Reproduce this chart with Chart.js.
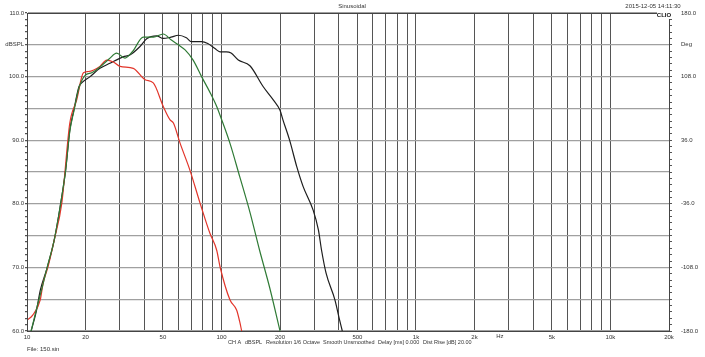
<!DOCTYPE html>
<html>
<head>
<meta charset="utf-8">
<script src="https://cdn.jsdelivr.net/npm/chart.js@4/dist/chart.umd.min.js"></script>
<style>
	html, body { margin: 0; padding: 0; background: #fff; }
	canvas { display: block; }
</style>
</head>
<body>
<canvas id="chart" width="705" height="357"></canvas>
<script>
// curve readings: frequency (Hz) and level (dBSPL)
const blackFreq = [10.5, 11.2, 11.7, 12.6, 13.8, 14.8, 15.8, 16.6, 17.4, 18.5, 19.1, 21.1, 23.7, 26.7, 31.2, 33.8, 38, 41.4, 46.4, 50.2, 55, 60, 66, 70, 79, 85, 92.6, 98.3, 106, 112, 122, 140, 164, 185, 200, 207, 224, 244, 263, 296, 315, 327, 345, 383, 405, 418];
const blackDb = [60, 63.3, 66.4, 69.6, 74.3, 79.5, 85.3, 91.6, 94.7, 98.4, 99, 100, 101.3, 102.1, 103.1, 103.4, 104.7, 106, 106.4, 106, 106.2, 106.5, 106.1, 105.5, 105.5, 105.2, 104.4, 103.9, 103.9, 103.7, 102.6, 101.7, 98.4, 96.3, 94.7, 93.2, 90, 85.8, 82.7, 79, 75.9, 72.7, 69.1, 64.9, 61.7, 60];

const greenFreq = [10.5, 11.2, 12, 12.7, 13.8, 14.8, 15.8, 16.6, 17.4, 18.5, 19.9, 21.5, 23.7, 26.5, 28.9, 31.9, 35, 39.6, 44.7, 50.2, 55, 60, 65, 71.5, 79, 87, 94.5, 100, 110.6, 124, 140, 157, 177, 200];
const greenDb = [60, 63.5, 67, 70, 74.3, 79.5, 85.3, 91.4, 94.5, 98.2, 100.2, 100.6, 101.5, 102.8, 103.7, 102.9, 104, 106.2, 106.2, 106.7, 105.8, 105, 104.2, 102.6, 100, 97.6, 95.3, 93.3, 89.5, 84.3, 78.7, 72.7, 66.8, 60];

const redFreq = [10, 10.7, 11.7, 12.1, 12.8, 13.8, 15.1, 16.6, 18, 19.5, 20.7, 23.7, 25.7, 27.8, 30.1, 35.2, 40.5, 44.6, 50.2, 54.4, 56.6, 61.3, 68.8, 77.6, 87.1, 94.5, 98.3, 110.5, 119.6, 124, 127];
const redDb = [61.7, 62.5, 64.9, 67.5, 70, 74.3, 80.1, 92.7, 96.3, 100.6, 100.8, 101.6, 102.6, 102.3, 101.6, 101.3, 99.5, 99, 95.3, 93.2, 92.7, 89.5, 85.3, 80.1, 75.4, 72.7, 70.1, 64.9, 63.3, 61.5, 60];

// axis ticks
const freqTicks = [10, 20, 30, 40, 50, 60, 70, 80, 90, 100, 200, 300, 400, 500, 600, 700, 800, 900,
	1000, 2000, 3000, 4000, 5000, 6000, 7000, 8000, 9000, 10000, 20000];
const freqLabels = {10: "10", 20: "20", 50: "50", 100: "100", 200: "200", 500: "500",
	1000: "1k", 2000: "2k", 5000: "5k", 10000: "10k", 20000: "20k"};
const dbTickLabels = {60: "60.0", 70: "70.0", 80: "80.0", 90: "90.0", 100: "100.0", 105: "dBSPL", 110: "110.0"};
const degTickLabels = {0: "-180.0", 10: "-108.0", 20: "-36.0", 30: "36.0", 40: "108.0", 45: "Deg", 50: "180.0"};

const bottomNotes = ["CH A", "dBSPL", "Resolution 1/6 Octave", "Smooth Unsmoothed", "Delay [ms] 0.000", "Dist Rise [dB] 20.00"];
const bottomNoteX = [228, 245, 266, 323, 378, 423];

function toPoints(xs, ys) {
	const pts = [];
	for(let i = 0; i < xs.length; i++)
		pts.push({x: xs[i], y: ys[i]});
	return pts;
}

const FONT = "'Liberation Sans', Arial, sans-serif";
const TEXT = "#333";

const textPlugin = {
	id: "clioText",
	afterDraw(chart) {
		const ctx = chart.ctx;
		const a = chart.chartArea;
		ctx.save();
		ctx.strokeStyle = "#444";
		ctx.lineWidth = 1;
		ctx.strokeRect(a.left + 0.5, a.top + 0.5, a.right - a.left, a.bottom - a.top);

		ctx.fillStyle = TEXT;
		ctx.font = "6px " + FONT;
		ctx.textBaseline = "middle";
		ctx.textAlign = "center";
		ctx.fillText("Sinusoidal", 352, 6);
		ctx.fillText("2015-12-05 14:11:30", 653, 6);
		ctx.fillText("Hz", chart.scales.x.getPixelForValue(2700), 336);

		ctx.textAlign = "left";
		ctx.font = "5.5px " + FONT;
		for(let i = 0; i < bottomNotes.length; i++)
			ctx.fillText(bottomNotes[i], bottomNoteX[i], 342);
		ctx.font = "6px " + FONT;
		ctx.fillText("File: 150.sin", 27, 349);

		ctx.fillStyle = "#fff";
		ctx.fillRect(657, 12, 15, 7);
		ctx.fillStyle = "#111";
		ctx.font = "bold 6px " + FONT;
		ctx.textAlign = "center";
		ctx.fillText("CLIO", 664, 15.5);
		ctx.restore();
	}
};

new Chart(document.getElementById("chart").getContext("2d"), {
	type: "line",
	data: {
		datasets: [
			{data: toPoints(greenFreq, greenDb), borderColor: "#2f7a35"},
			{data: toPoints(redFreq, redDb), borderColor: "#e2352a"},
			{data: toPoints(blackFreq, blackDb), borderColor: "#1e1e1e"}
		].map(d => Object.assign(d, {borderWidth: 1.2, pointRadius: 0, cubicInterpolationMode: "monotone", yAxisID: "y"}))
	},
	options: {
		responsive: false,
		animation: false,
		devicePixelRatio: 1,
		layout: {padding: {top: 13, left: 0, right: 0, bottom: 0}},
		plugins: {legend: {display: false}, tooltip: {enabled: false}},
		scales: {
			x: {
				type: "logarithmic",
				min: 10,
				max: 20000,
				afterBuildTicks: s => { s.ticks = freqTicks.map(v => ({value: v})); },
				afterFit: s => { s.height = 26; },
				grid: {color: "#555", lineWidth: 1, tickLength: 0},
				border: {color: "#444"},
				ticks: {
					autoSkip: false, maxRotation: 0, padding: 3,
					color: TEXT, font: {family: FONT, size: 6},
					callback: v => freqLabels[v] || ""
				}
			},
			y: {
				position: "left",
				min: 60,
				max: 110,
				afterBuildTicks: s => {
					const t = [];
					for(let v = 60; v <= 110; v++) t.push({value: v});
					s.ticks = t;
				},
				afterFit: s => { s.width = 27; },
				grid: {
					color: c => (c.tick && c.tick.value % 5 === 0) ? "#a0a0a0" : "rgba(0,0,0,0)",
					lineWidth: 1.2,
					tickColor: "#555",
					tickLength: 2
				},
				border: {color: "#444"},
				ticks: {
					autoSkip: false, padding: 1,
					color: TEXT, font: {family: FONT, size: 6},
					callback: v => dbTickLabels[v] || ""
				}
			},
			y2: {
				position: "right",
				min: -180,
				max: 180,
				afterBuildTicks: s => {
					const t = [];
					for(let i = 0; i <= 50; i++) t.push({value: -180 + i * 7.2});
					s.ticks = t;
				},
				afterFit: s => { s.width = 36; },
				grid: {drawOnChartArea: false, tickColor: "#555", tickLength: 3},
				border: {color: "#444"},
				ticks: {
					autoSkip: false, padding: 9,
					color: TEXT, font: {family: FONT, size: 6},
					callback: (v, i) => degTickLabels[i] || ""
				}
			}
		}
	},
	plugins: [textPlugin]
});
</script>
</body>
</html>
